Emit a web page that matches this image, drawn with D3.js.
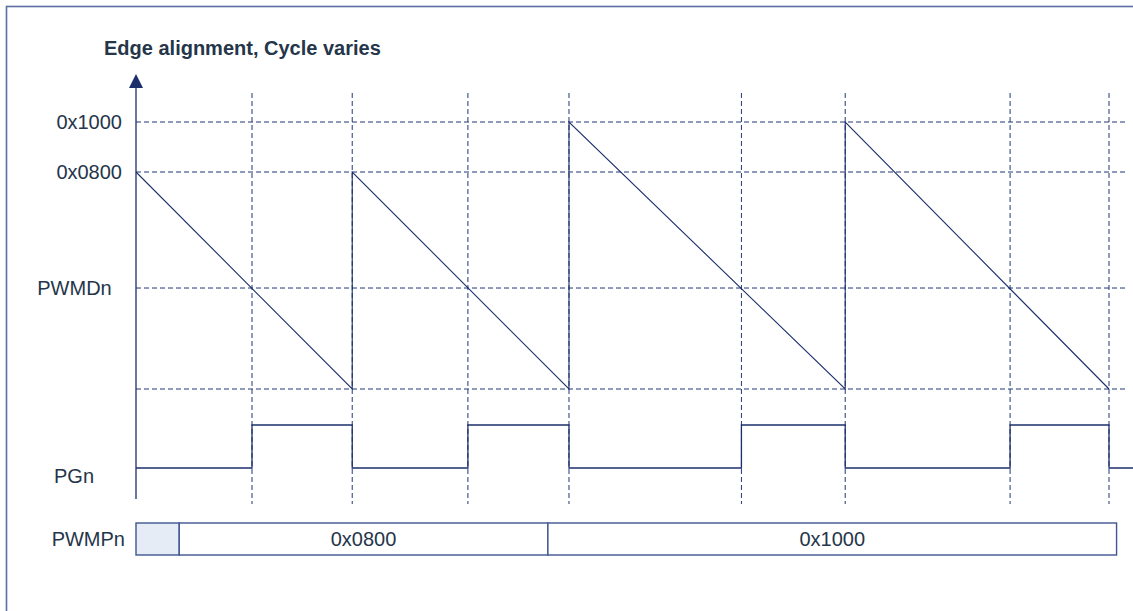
<!DOCTYPE html>
<html>
<head>
<meta charset="utf-8">
<script src="https://cdn.jsdelivr.net/npm/d3@7"></script>
<style>
  html, body { margin: 0; padding: 0; background: #fff; }
  svg { display: block; font-family: "Liberation Sans", Arial, sans-serif; }
</style>
</head>
<body>
<svg></svg>
<script>
const width = 1133;
const height = 611;

// ================================
// Data (schematic timing units)
// ================================

const title = 'Edge alignment, Cycle varies';

// counter levels shown on the left
const levelValues = [4096, 2048, 953, 0];
const levelLabels = ['0x1000', '0x0800', 'PWMDn', ''];

// PWM period of each cycle (counter reload value)
const periods = [2048, 2048, 4096, 4096];
// cycle boundaries and compare-match times
const cycleBounds = [0, 2.0, 4.005, 6.56, 9.0];
const matchTimes = [1.073, 3.07, 5.6, 8.085];

// PWMPn register content over time
const pwmpLabels = ['', '0x0800', '0x1000'];
const pwmpStarts = [0, 0.4, 3.81];
const pwmpEnds = [0.4, 3.81, 9.07];

const navy = '#1c2f6c';
const dashCol = '#22397a';
const textCol = '#25354a';

// ================================
// Scales
// ================================

const x = d3.scaleLinear().domain([0, 9]).range([136, 1109]);
const y = d3.scaleLinear().domain([0, 2048, 4096]).range([389, 172, 122]);
const pg = d3.scaleLinear().domain([0, 1]).range([468, 425]);

const svg = d3.select('svg')
  .attr('width', width)
  .attr('height', height);

// frame
svg.append('rect')
  .attr('x', 6.5).attr('y', 6.5)
  .attr('width', width + 20).attr('height', height + 20)
  .attr('fill', 'none')
  .attr('stroke', '#5a6fa3')
  .attr('stroke-width', 1.6);

svg.append('text')
  .attr('x', 104).attr('y', 55)
  .attr('font-size', 20).attr('font-weight', 'bold')
  .attr('fill', textCol)
  .text(title);

// ================================
// Dashed grid
// ================================

levelValues.forEach(v => {
  svg.append('line')
    .attr('x1', x(0)).attr('x2', 1125)
    .attr('y1', y(v)).attr('y2', y(v))
    .attr('stroke', dashCol).attr('stroke-width', 1)
    .attr('stroke-dasharray', '5,3');
});

const events = cycleBounds.slice(1).concat(matchTimes);
events.forEach(t => {
  svg.append('line')
    .attr('x1', x(t)).attr('x2', x(t))
    .attr('y1', 93).attr('y2', 504)
    .attr('stroke', dashCol).attr('stroke-width', 1)
    .attr('stroke-dasharray', '5,3');
});

// ================================
// Axis with arrow
// ================================

svg.append('line')
  .attr('x1', x(0)).attr('x2', x(0))
  .attr('y1', 86).attr('y2', 499)
  .attr('stroke', navy).attr('stroke-width', 1.3);

svg.append('path')
  .attr('d', `M${x(0)},74 L${x(0) - 7},88 L${x(0) + 7},88 Z`)
  .attr('fill', navy);

// labels
levelValues.forEach((v, i) => {
  const lab = levelLabels[i];
  if (!lab) return;
  const centered = lab === 'PWMDn';
  svg.append('text')
    .attr('x', centered ? 74.5 : 122)
    .attr('y', y(v))
    .attr('dy', '0.35em')
    .attr('text-anchor', centered ? 'middle' : 'end')
    .attr('font-size', 20)
    .attr('fill', textCol)
    .text(lab);
});

svg.append('text')
  .attr('x', 74).attr('y', 476).attr('dy', '0.35em')
  .attr('text-anchor', 'middle')
  .attr('font-size', 20).attr('fill', textCol)
  .text('PGn');

svg.append('text')
  .attr('x', 125).attr('y', 539).attr('dy', '0.35em')
  .attr('text-anchor', 'end')
  .attr('font-size', 20).attr('fill', textCol)
  .text('PWMPn');

// ================================
// Counter sawtooth
// ================================

const sawPts = [];
periods.forEach((p, i) => {
  sawPts.push([cycleBounds[i], p]);
  sawPts.push([cycleBounds[i + 1], 0]);
});

svg.append('path')
  .datum(sawPts)
  .attr('fill', 'none')
  .attr('stroke', navy).attr('stroke-width', 1.1)
  .attr('d', d3.line().x(d => x(d[0])).y(d => y(d[1])));

// ================================
// PGn output
// ================================

const pgPts = [[0, 0]];
matchTimes.forEach((m, i) => {
  pgPts.push([m, 0], [m, 1], [cycleBounds[i + 1], 1], [cycleBounds[i + 1], 0]);
});
pgPts.push([9.3, 0]);

svg.append('path')
  .datum(pgPts)
  .attr('fill', 'none')
  .attr('stroke', navy).attr('stroke-width', 1.3)
  .attr('d', d3.line().x(d => x(d[0])).y(d => pg(d[1])));

// ================================
// PWMPn register bar
// ================================

const segs = pwmpLabels.map((l, i) => ({ label: l, t0: pwmpStarts[i], t1: pwmpEnds[i] }));

svg.selectAll('rect.seg')
  .data(segs)
  .enter()
  .append('rect')
    .attr('class', 'seg')
    .attr('x', d => x(d.t0))
    .attr('y', 523)
    .attr('width', d => x(d.t1) - x(d.t0))
    .attr('height', 32)
    .attr('fill', d => d.label ? '#fff' : '#e5ecf6')
    .attr('stroke', '#3f5690')
    .attr('stroke-width', 1.4);

svg.selectAll('text.seg')
  .data(segs.filter(d => d.label))
  .enter()
  .append('text')
    .attr('class', 'seg')
    .attr('x', d => (x(d.t0) + x(d.t1)) / 2)
    .attr('y', 539).attr('dy', '0.35em')
    .attr('text-anchor', 'middle')
    .attr('font-size', 20)
    .attr('fill', textCol)
    .text(d => d.label);
</script>
</body>
</html>
